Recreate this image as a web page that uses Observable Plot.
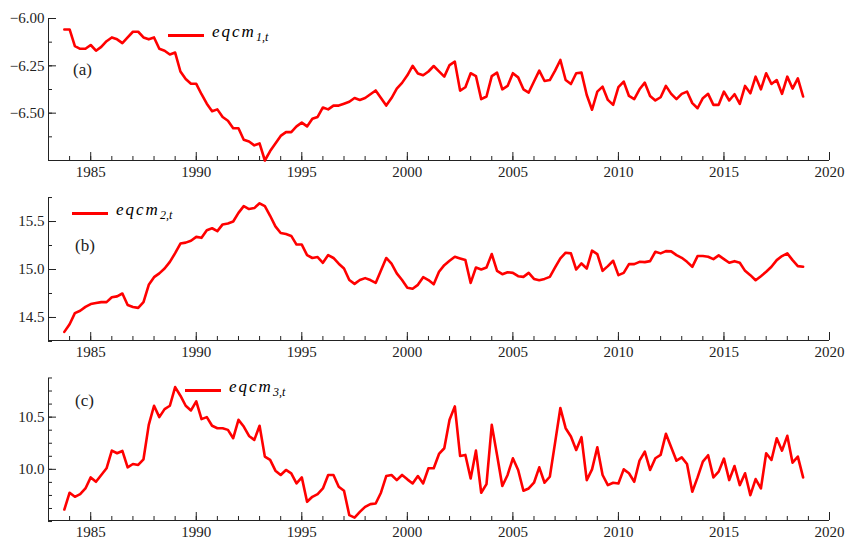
<!DOCTYPE html>
<html>
<head>
<meta charset="utf-8">
<script src="https://cdn.jsdelivr.net/npm/d3@7"></script>
<script src="https://cdn.jsdelivr.net/npm/@observablehq/plot@0.6"></script>
<style>
  body { margin: 0; background: #fff; font-family: "Liberation Serif", "Times New Roman", "DejaVu Serif", serif; }
  #wrap { position: relative; width: 848px; height: 540px; }
  .lab { position: absolute; font-size: 17px; color: #222; }
  .leg { position: absolute; font-size: 17px; font-style: italic; letter-spacing: 2px; }
  .leg sub { font-size: 12px; letter-spacing: 0; }
  .seg { position: absolute; height: 3px; background: #ff0000; }
  svg text { font-family: "Liberation Serif", "Times New Roman", "DejaVu Serif", serif; }
</style>
</head>
<body>
<div id="wrap"></div>
<script>
// quarterly series, starting 1983Q4
const startYear = 1983.75;

const eqcm1 = [
  -6.058, -6.058, -6.146, -6.16, -6.16, -6.14, -6.17, -6.15, -6.12, -6.10,
  -6.11, -6.13, -6.10, -6.07, -6.07, -6.10, -6.11, -6.10, -6.16, -6.17,
  -6.19, -6.18, -6.28, -6.32, -6.345, -6.345, -6.40, -6.45, -6.49, -6.48,
  -6.52, -6.54, -6.58, -6.58, -6.64, -6.65, -6.67, -6.66, -6.75, -6.70,
  -6.66, -6.62, -6.60, -6.60, -6.57, -6.55, -6.57, -6.53, -6.52, -6.47,
  -6.48, -6.46, -6.46, -6.45, -6.44, -6.42, -6.43, -6.42, -6.40, -6.38,
  -6.42, -6.46, -6.42, -6.37, -6.34, -6.30, -6.25, -6.29, -6.30, -6.28,
  -6.251, -6.279, -6.307, -6.246, -6.228, -6.381, -6.363, -6.289, -6.304, -6.426,
  -6.412, -6.304, -6.286, -6.374, -6.356, -6.289, -6.311, -6.374, -6.391, -6.333,
  -6.275, -6.33, -6.325, -6.275, -6.219, -6.325, -6.346, -6.289, -6.286, -6.404,
  -6.482, -6.386, -6.36, -6.43, -6.456, -6.363, -6.333, -6.409, -6.426, -6.374,
  -6.339, -6.409, -6.433, -6.416, -6.356, -6.398, -6.426, -6.398, -6.386, -6.447,
  -6.474, -6.421, -6.398, -6.456, -6.456, -6.386, -6.433, -6.40, -6.451, -6.356,
  -6.395, -6.307, -6.374, -6.289, -6.346, -6.325, -6.398, -6.307, -6.37, -6.316,
  -6.412
];

const eqcm2 = [
  14.35, 14.43, 14.545, 14.57, 14.61, 14.64, 14.65, 14.66, 14.66, 14.71,
  14.72, 14.75, 14.63, 14.61, 14.60, 14.66, 14.84, 14.92, 14.96, 15.01,
  15.08, 15.17, 15.27, 15.28, 15.30, 15.34, 15.33, 15.41, 15.43, 15.40,
  15.47, 15.48, 15.50, 15.59, 15.66, 15.63, 15.64, 15.69, 15.66, 15.56,
  15.45, 15.38, 15.37, 15.35, 15.26, 15.26, 15.15, 15.12, 15.13, 15.07,
  15.15, 15.12, 15.06, 15.01, 14.89, 14.85, 14.89, 14.91, 14.89, 14.86,
  14.99, 15.12, 15.06, 14.96, 14.89, 14.81, 14.80, 14.84, 14.92, 14.89,
  14.846, 14.976, 15.045, 15.091, 15.133, 15.115, 15.098, 14.86, 15.021, 15.0,
  15.021, 15.161, 14.986, 14.951, 14.972, 14.965, 14.93, 14.923, 14.965, 14.902,
  14.888, 14.902, 14.923, 15.021, 15.115, 15.175, 15.168, 15.0, 15.063, 15.01,
  15.196, 15.161, 14.986, 15.035, 15.091, 14.941, 14.965, 15.056, 15.056, 15.08,
  15.077, 15.087, 15.185, 15.168, 15.192, 15.189, 15.15, 15.122, 15.08, 15.028,
  15.14, 15.14, 15.133, 15.108, 15.147, 15.108, 15.07, 15.087, 15.07, 14.986,
  14.941, 14.888, 14.93, 14.976, 15.028, 15.098, 15.14, 15.168, 15.098, 15.035,
  15.028
];

const eqcm3 = [
  9.615, 9.776, 9.737, 9.763, 9.817, 9.923, 9.881, 9.946, 10.01, 10.18,
  10.154, 10.176, 10.019, 10.051, 10.042, 10.096, 10.426, 10.609, 10.5, 10.577,
  10.609, 10.788, 10.705, 10.609, 10.564, 10.651, 10.481, 10.5, 10.417, 10.394,
  10.394, 10.378, 10.298, 10.474, 10.41, 10.32, 10.282, 10.417, 10.122, 10.09,
  9.987, 9.946, 9.994, 9.962, 9.865, 9.923, 9.689, 9.737, 9.763, 9.817,
  9.946, 9.946, 9.833, 9.795, 9.561, 9.538, 9.593, 9.641, 9.667, 9.673,
  9.776, 9.936, 9.946, 9.897, 9.946, 9.904, 9.865, 9.936, 9.865, 10.01,
  10.01, 10.147, 10.202, 10.474, 10.603, 10.128, 10.138, 9.913, 10.179, 9.776,
  9.859, 10.426, 10.138, 9.84, 9.946, 10.106, 9.994, 9.795, 9.817, 9.872,
  10.019, 9.872, 9.929, 10.256, 10.587, 10.394, 10.314, 10.186, 10.308, 9.897,
  10.0, 10.212, 9.946, 9.849, 9.872, 9.865, 10.0, 9.962, 9.881, 10.083,
  10.17, 9.994, 10.106, 10.138, 10.34, 10.212, 10.083, 10.115, 10.051, 9.785,
  9.923, 10.074, 10.135, 9.923, 9.978, 10.103, 9.897, 10.032, 9.849, 9.962,
  9.753, 9.907, 9.817, 10.154, 10.09, 10.298, 10.179, 10.321, 10.064, 10.122,
  9.923
];

const xMajor = [1985, 1990, 1995, 2000, 2005, 2010, 2015, 2020];
const xMinor = d3.range(1983, 2021);

const panels = [
  {values: eqcm1, domain: [-6.75, -6.0], major: [-6.0, -6.25, -6.5], minor: d3.range(-6.75, -5.99, 0.125), fmt: d3.format(".2f"), sub: "1,t", tag: "(a)"},
  {values: eqcm2, domain: [14.26, 15.74], major: [14.5, 15.0, 15.5], minor: d3.range(14.25, 15.76, 0.25), fmt: d3.format(".1f"), sub: "2,t", tag: "(b)"},
  {values: eqcm3, domain: [9.51, 10.87], major: [10.0, 10.5], minor: d3.range(9.5, 10.9, 0.125), fmt: d3.format(".1f"), sub: "3,t", tag: "(c)"}
];

const wrap = d3.select("#wrap");
const serif = "'Liberation Serif', 'Times New Roman', 'DejaVu Serif', serif";

panels.forEach((p, i) => {
  const rows = p.values.map((v, j) => ({t: startYear + j * 0.25, v}));
  const chart = Plot.plot({
    width: 848,
    height: 180,
    marginLeft: 48,
    marginRight: 19,
    marginTop: 18,
    marginBottom: 20,
    style: {fontFamily: serif, fontSize: "15px", color: "#222", background: "transparent"},
    x: {domain: [1983, 2020]},
    y: {domain: p.domain},
    marks: [
      Plot.axisX(xMajor, {tickSize: -8, tickPadding: 14, tickFormat: d => String(d), label: null}),
      Plot.axisX(xMinor, {tickSize: -4, tickFormat: () => "", label: null}),
      Plot.axisY(p.major, {tickSize: -8, tickPadding: 12, tickFormat: p.fmt, label: null}),
      Plot.axisY(p.minor, {tickSize: -4, tickFormat: () => "", label: null}),
      Plot.ruleX([1983], {stroke: "#222"}),
      Plot.ruleY([p.domain[0]], {stroke: "#222"}),
      Plot.lineY(rows, {x: "t", y: "v", stroke: "#ff0000", strokeWidth: 2.6})
    ]
  });
  d3.select(chart).style("position", "absolute").style("left", "0px").style("top", (i * 180) + "px");
  wrap.append(() => chart);
});

// legends and panel tags
const legPos = [{x: 168, y: 35}, {x: 72, y: 213}, {x: 185, y: 390}];
const tagPos = [{x: 73, y: 60}, {x: 75, y: 236}, {x: 75, y: 391}];
panels.forEach((p, i) => {
  const l = legPos[i], t = tagPos[i];
  wrap.append("div").attr("class", "seg").style("left", l.x + "px").style("top", (l.y - 1) + "px").style("width", "36px");
  wrap.append("div").attr("class", "leg").style("left", (l.x + 44) + "px").style("top", (l.y - 13) + "px")
    .html(`eqcm<sub>${p.sub}</sub>`);
  wrap.append("div").attr("class", "lab").style("left", t.x + "px").style("top", t.y + "px").text(p.tag);
});
</script>
</body>
</html>
